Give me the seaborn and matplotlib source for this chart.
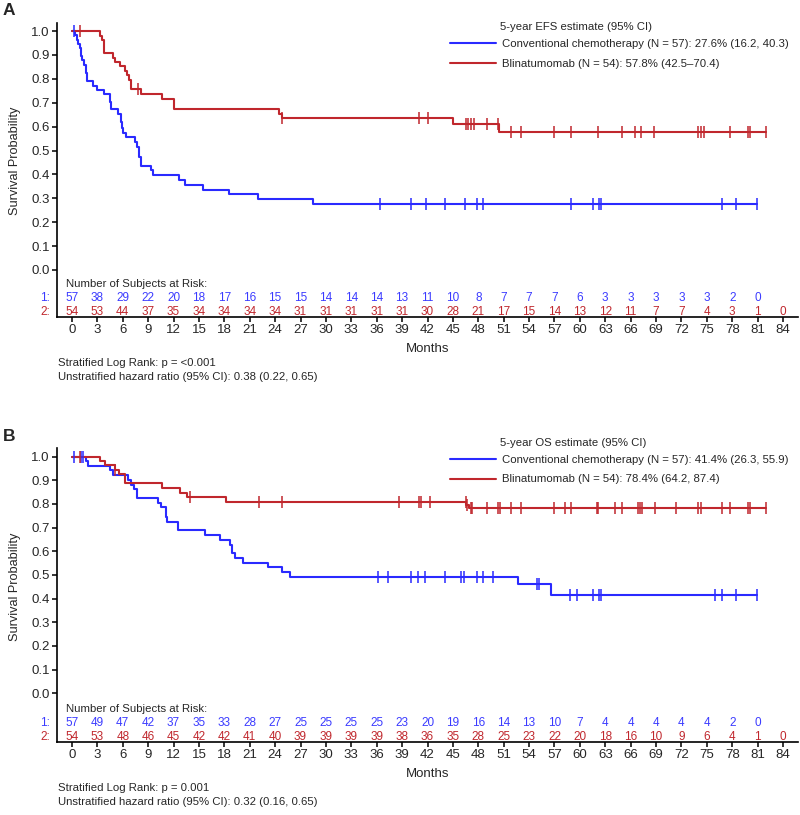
import numpy as np
import matplotlib
matplotlib.use("Agg")
import matplotlib.pyplot as plt
import seaborn as sns

sns.set_style("ticks")
plt.rcParams['font.family'] = ['Liberation Sans', 'DejaVu Sans']

BLUE = "#2a2aff"
RED = "#c0272d"
BLUE_TXT = "#3b3bff"

# ---------------- Panel A: EFS ----------------
efs_chemo_t = [0, 0.3, 0.55, 0.75, 0.94, 1.02, 1.22, 1.42, 1.65, 1.81, 2.52, 2.99, 3.78, 4.49, 4.61,
               5.47, 5.75, 5.87, 6.06, 6.38, 7.44, 7.64, 7.95, 8.11, 9.29, 9.53, 12.68, 13.39, 15.43,
               18.58, 21.93, 28.5]
efs_chemo_s = [1.0, 0.982, 0.964, 0.947, 0.93, 0.895, 0.877, 0.86, 0.825, 0.79, 0.772, 0.754, 0.737,
               0.702, 0.675, 0.653, 0.62, 0.596, 0.574, 0.555, 0.535, 0.513, 0.474, 0.437, 0.417, 0.397,
               0.377, 0.357, 0.336, 0.316, 0.297, 0.276]
efs_chemo_cens = [0.2, 36.4, 40.0, 41.8, 44.1, 46.4, 47.9, 48.5, 58.9, 61.6, 62.3, 62.5, 76.8, 78.5, 80.9]

efs_blin_t = [0, 3.3, 3.55, 3.8, 4.8, 5.1, 5.67, 6.26, 6.5, 6.77, 6.93, 8.2, 10.6, 12.06, 24.5, 24.8,
              45.0, 50.4]
efs_blin_s = [1.0, 0.981, 0.963, 0.907, 0.889, 0.870, 0.852, 0.833, 0.815, 0.796, 0.756, 0.736, 0.715,
              0.675, 0.654, 0.634, 0.613, 0.578]
efs_blin_cens = [0.95, 7.84, 24.8, 41.0, 42.0, 46.5, 46.8, 47.1, 47.5, 49.0, 50.3, 51.9, 53.0, 57.0,
                 59.0, 62.2, 65.0, 66.5, 67.2, 68.8, 74.0, 74.3, 74.7, 77.7, 79.9, 80.1, 82.0]

# ---------------- Panel B: OS ----------------
os_chemo_t = [0, 1.65, 1.93, 4.49, 4.88, 6.65, 6.97, 7.3, 7.64, 10.2, 10.5, 11.06, 11.2, 12.57, 15.7,
              17.5, 18.7, 18.9, 19.3, 20.2, 23.2, 24.85, 25.7, 52.7, 56.6]
os_chemo_s = [1.0, 0.982, 0.962, 0.943, 0.922, 0.902, 0.882, 0.862, 0.825, 0.805, 0.785, 0.745, 0.725,
              0.688, 0.669, 0.648, 0.627, 0.592, 0.571, 0.552, 0.533, 0.513, 0.493, 0.46, 0.414]
os_chemo_cens = [0.24, 1.06, 1.34, 36.2, 37.3, 40.0, 40.9, 41.7, 44.1, 46.0, 46.3, 47.9, 48.5, 49.7,
                 54.9, 55.2, 58.8, 59.7, 61.6, 62.3, 62.5, 76.0, 76.8, 78.4, 80.9]

os_blin_t = [0, 3.3, 3.9, 5.08, 5.55, 6.26, 10.6, 12.76, 13.54, 18.15, 46.6, 46.9]
os_blin_s = [1.0, 0.981, 0.963, 0.944, 0.926, 0.887, 0.867, 0.848, 0.829, 0.810, 0.797, 0.784]
os_blin_cens = [0.94, 5.1, 14.0, 22.1, 24.8, 38.6, 41.0, 41.2, 42.3, 46.5, 46.7, 47.1, 47.3, 49.0,
                50.3, 50.6, 51.9, 53.0, 57.0, 58.3, 59.0, 62.0, 62.2, 64.2, 65.0, 66.9, 67.1, 67.3,
                68.9, 71.4, 74.0, 74.3, 76.8, 77.7, 79.9, 80.1, 82.0]

# ---------------- Risk tables ----------------
risk_times = list(range(0, 85, 3))
efs_risk_chemo = [57, 38, 29, 22, 20, 18, 17, 16, 15, 15, 14, 14, 14, 13, 11, 10, 8, 7, 7, 7, 6, 3, 3, 3, 3, 3, 2, 0]
efs_risk_blin = [54, 53, 44, 37, 35, 34, 34, 34, 34, 31, 31, 31, 31, 31, 30, 28, 21, 17, 15, 14, 13, 12, 11, 7, 7, 4, 3, 1, 0]
os_risk_chemo = [57, 49, 47, 42, 37, 35, 33, 28, 27, 25, 25, 25, 25, 23, 20, 19, 16, 14, 13, 10, 7, 4, 4, 4, 4, 4, 2, 0]
os_risk_blin = [54, 53, 48, 46, 45, 42, 42, 41, 40, 39, 39, 39, 39, 38, 36, 35, 28, 25, 23, 22, 20, 18, 16, 10, 9, 6, 4, 1, 0]

xtick_vals = list(range(0, 85, 3))
ytick_vals = [0.0, 0.1, 0.2, 0.3, 0.4, 0.5, 0.6, 0.7, 0.8, 0.9, 1.0]

efs_labels = ["Conventional chemotherapy (N = 57): 27.6% (16.2, 40.3)",
              "Blinatumomab (N = 54): 57.8% (42.5\u201370.4)"]
os_labels = ["Conventional chemotherapy (N = 57): 41.4% (26.3, 55.9)",
             "Blinatumomab (N = 54): 78.4% (64.2, 87.4)"]

W, H = 800, 815
fig = plt.figure(figsize=(W / 100, H / 100), dpi=100)


def fx(px):
    return px / W


def fy(py):
    return 1 - py / H


def draw_curve(ax, t, s, cens, color, label):
    t = list(t)
    s = list(s)
    tend = max(max(cens), t[-1])
    tt = t + [tend]
    ss = s + [s[-1]]
    sns.lineplot(x=tt, y=ss, drawstyle='steps-post', color=color, lw=1.5, ax=ax,
                 estimator=None, sort=False, label=label, legend=False)
    idx = np.searchsorted(np.array(t), np.array(cens), side='right') - 1
    cy = np.array(s)[idx]
    sns.scatterplot(x=cens, y=cy, marker='|', s=75, color=color, linewidth=1.1, ax=ax,
                    legend=False, zorder=3)
    return ax.get_lines()[-1]


def panel(top_px, bot_px, ybot, letter, curves, labels, risk1, risk2, title, title_py,
          p_text, hr_text):
    ax = fig.add_axes([fx(57), fy(bot_px), fx(798) - fx(57), fy(top_px) - fy(bot_px)])
    handles = []
    for (t, s, c, col), lab in zip(curves, labels):
        handles.append(draw_curve(ax, t, s, c, col, lab))
    ax.set_xlim(-1.77, 85.77)
    ax.set_ylim(ybot, 1.035)
    ax.set_yticks(ytick_vals)
    ax.set_yticklabels([f"{v:.1f}" for v in ytick_vals], fontsize=9.5)
    ax.set_xticks(xtick_vals)
    ax.set_xticklabels([str(v) for v in xtick_vals], fontsize=9.5)
    ax.tick_params(axis='both', length=3.6, width=1.1, color='black', pad=1.5)
    for sp in ['top', 'right']:
        ax.spines[sp].set_visible(False)
    for sp in ['left', 'bottom']:
        ax.spines[sp].set_linewidth(1.2)
        ax.spines[sp].set_color('black')
    ax.set_xlabel("Months", fontsize=9.5, labelpad=5)
    ax.set_ylabel("")
    ax.text(-0.057, 0.53, "Survival Probability", transform=ax.transAxes, rotation=90,
            ha='center', va='center', fontsize=9.2)

    # risk table
    span = 1.035 - ybot
    hpx = bot_px - top_px

    def yval(py):
        return 1.035 - (py - top_px) / hpx * span
    ax.text(-0.7, yval(bot_px - 33), "Number of Subjects at Risk:", fontsize=8.2, ha='left', va='center')
    for tm, v in zip(risk_times, risk1):
        ax.text(tm, yval(bot_px - 19), str(v), color=BLUE_TXT, fontsize=8.5, ha='center', va='center')
    for tm, v in zip(risk_times, risk2):
        ax.text(tm, yval(bot_px - 5), str(v), color=RED, fontsize=8.5, ha='center', va='center')
    fig.text(fx(50), fy(bot_px - 19), "1:", color=BLUE_TXT, fontsize=8.5, ha='right', va='center')
    fig.text(fx(50), fy(bot_px - 5), "2:", color=RED, fontsize=8.5, ha='right', va='center')

    # legend
    ax.legend(handles=handles, labels=labels, loc='upper left',
              bbox_to_anchor=(fx(450), fy(title_py + 13)), bbox_transform=fig.transFigure,
              frameon=False, fontsize=8.2, handlelength=4.0, handletextpad=0.55,
              borderpad=0, borderaxespad=0, labelspacing=0.86)
    fig.text(fx(500), fy(title_py + 0.8), title, fontsize=8.2, ha='left', va='center')

    fig.text(fx(3), fy(top_px - 12), letter, fontsize=12.5, fontweight='bold', ha='left', va='center')
    fig.text(fx(58), fy(bot_px + 46), p_text, fontsize=8.2, ha='left', va='center')
    fig.text(fx(58), fy(bot_px + 60), hr_text, fontsize=8.2, ha='left', va='center')
    return ax


panel(22.7, 317, -0.197, "A",
      [(efs_chemo_t, efs_chemo_s, efs_chemo_cens, BLUE), (efs_blin_t, efs_blin_s, efs_blin_cens, RED)],
      efs_labels, efs_risk_chemo, efs_risk_blin, "5-year EFS estimate (95% CI)", 26,
      "Stratified Log Rank: p = <0.001", "Unstratified hazard ratio (95% CI): 0.38 (0.22, 0.65)")

panel(448.3, 742, -0.206, "B",
      [(os_chemo_t, os_chemo_s, os_chemo_cens, BLUE), (os_blin_t, os_blin_s, os_blin_cens, RED)],
      os_labels, os_risk_chemo, os_risk_blin, "5-year OS estimate (95% CI)", 441.7,
      "Stratified Log Rank: p = 0.001", "Unstratified hazard ratio (95% CI): 0.32 (0.16, 0.65)")

fig.savefig("out.png", dpi=100, facecolor='white')
